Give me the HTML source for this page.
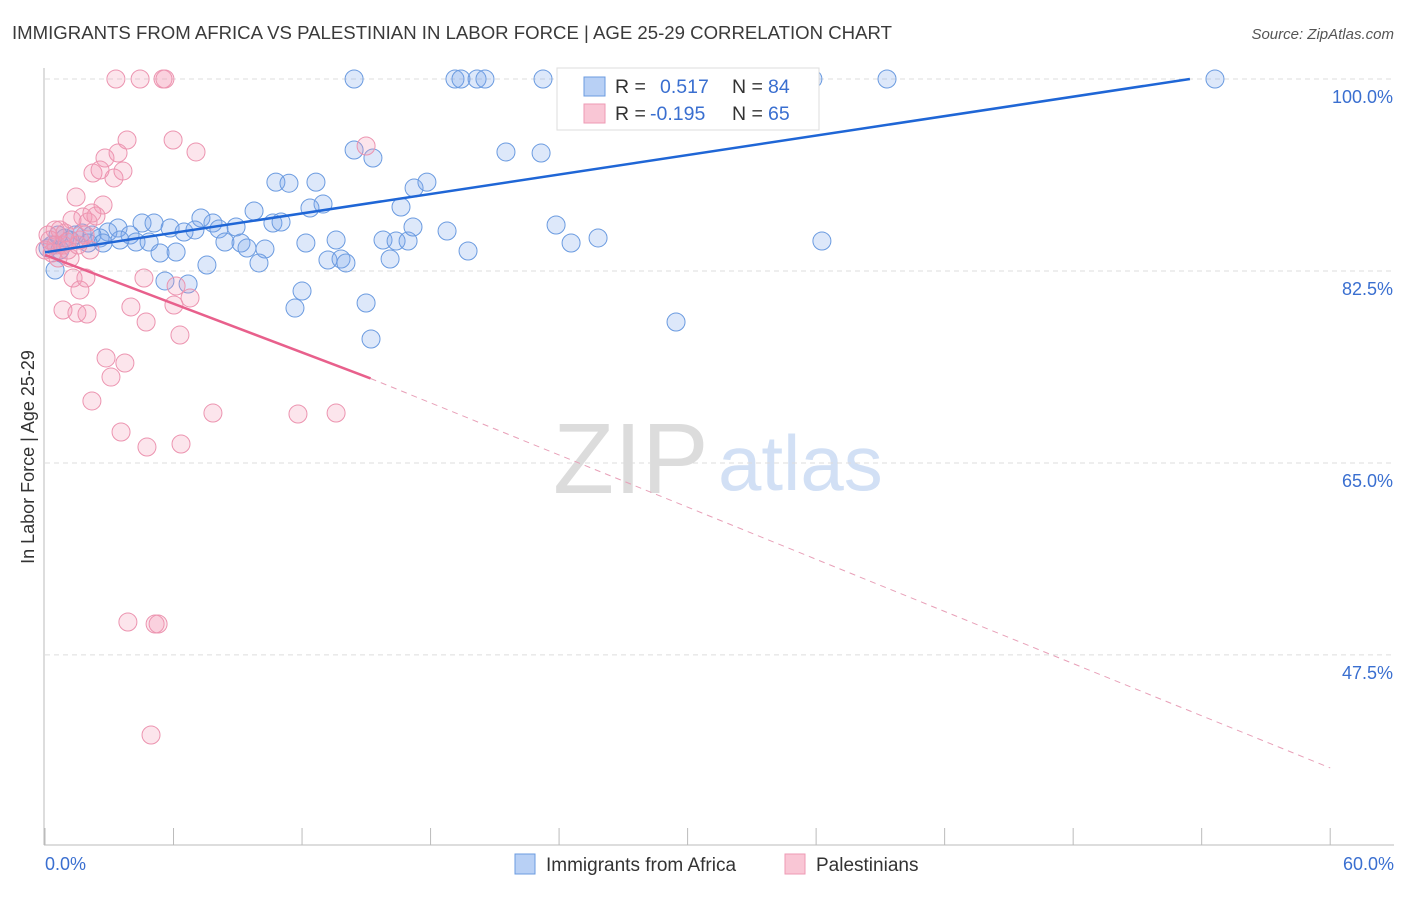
<!DOCTYPE html>
<html><head><meta charset="utf-8">
<style>
body{margin:0;background:#fff;font-family:"Liberation Sans",sans-serif;}
svg text{font-family:"Liberation Sans",sans-serif;}
</style></head>
<body>
<svg id="chart" width="1406" height="892" xmlns="http://www.w3.org/2000/svg">
<text x="12" y="39" font-size="18.6" fill="#3a3a3a">IMMIGRANTS FROM AFRICA VS PALESTINIAN IN LABOR FORCE | AGE 25-29 CORRELATION CHART</text>
<text x="1394" y="39" font-size="15" fill="#555" text-anchor="end" font-style="italic">Source: ZipAtlas.com</text>
<text x="553" y="493" font-size="100" fill="#dcdcdc" font-family="Liberation Serif">ZIP</text>
<text x="718" y="490" font-size="78" fill="#d2e0f5">atlas</text>
<g id="grid"></g>
<g id="axes"></g>
<g id="pts"></g>
<g id="lines"></g>
<text transform="translate(34,457) rotate(-90)" font-size="18" fill="#333" text-anchor="middle">In Labor Force | Age 25-29</text>
<text x="45" y="870" font-size="18" fill="#3a6fd0">0.0%</text>
<text x="1394" y="870" font-size="18" fill="#3a6fd0" text-anchor="end">60.0%</text>
<g>
<rect x="557" y="68" width="262" height="62" fill="#fff" stroke="#ddd"/>
<rect x="584" y="77" width="21" height="19" fill="#b8d0f5" stroke="#6b9be0"/>
<rect x="584" y="104" width="21" height="19" fill="#f9c6d5" stroke="#ee9ab4"/>
<text x="615" y="93" font-size="19.5" fill="#333">R =</text>
<text x="660" y="93" font-size="19.5" fill="#3a6fd0">0.517</text>
<text x="732" y="93" font-size="19.5" fill="#333">N =</text>
<text x="768" y="93" font-size="19.5" fill="#3a6fd0">84</text>
<text x="615" y="120" font-size="19.5" fill="#333">R =</text>
<text x="650" y="120" font-size="19.5" fill="#3a6fd0">-0.195</text>
<text x="732" y="120" font-size="19.5" fill="#333">N =</text>
<text x="768" y="120" font-size="19.5" fill="#3a6fd0">65</text>
</g>
<g>
<rect x="515" y="854" width="20" height="20" fill="#b8d0f5" stroke="#6b9be0"/>
<text x="546" y="871" font-size="19" fill="#333">Immigrants from Africa</text>
</g>
<g>
<rect x="785" y="854" width="20" height="20" fill="#f9c6d5" stroke="#ee9ab4"/>
<text x="816" y="871" font-size="19" fill="#333">Palestinians</text>
</g>
</svg>
<script>
const yTicks=[100,82.5,65,47.5];
const yTickLabels=["100.0%","82.5%","65.0%","47.5%"];
const xTicks=[0,6,12,18,24,30,36,42,48,54,60];
const blueX=[14.43,19.14,19.42,20.17,20.54,23.25,24.51,35.85,39.31,54.62,14.43,15.31,21.52,23.16,10.78,11.39,12.65,17.23,17.83,12.98,12.37,16.62,9.76,7.28,4.53,5.09,5.84,7.84,8.92,10.64,11.02,8.12,6.49,7.0,3.41,3.97,2.94,1.73,2.57,4.25,4.86,8.4,9.15,9.43,10.27,12.18,13.59,15.78,16.39,16.95,17.18,18.77,23.86,24.56,25.82,36.27,5.37,6.12,7.56,9.99,13.21,13.82,14.05,16.11,19.75,5.6,6.68,12.0,11.67,14.99,15.22,29.46,0.47,0.33,0.7,1.17,2.01,1.4,0.93,0.14,2.19,3.5,2.71,0.61];
const blueY=[100,100,100,100,100,100,100,100,100,100,93.53,92.8,93.35,93.25,90.6,90.5,90.6,90.06,90.6,88.6,88.24,88.33,87.97,87.33,86.87,86.87,86.42,86.87,86.51,86.87,86.96,86.33,86.05,86.24,86.42,85.78,86.05,85.96,85.51,85.14,85.14,85.14,85.05,84.59,84.5,85.05,85.32,85.32,85.23,85.23,86.51,86.14,86.69,85.05,85.51,85.23,84.14,84.23,83.04,83.23,83.5,83.59,83.23,83.59,84.32,81.59,81.31,80.67,79.12,79.58,76.3,77.85,82.59,84.87,84.41,85.32,85.05,85.78,85.51,84.59,85.78,85.32,85.05,85.78];
const pinkX=[3.31,4.44,5.51,5.6,3.83,5.98,14.99,2.8,3.41,7.05,2.24,3.22,3.64,2.57,1.45,2.71,2.38,1.77,2.01,2.19,1.26,0.47,0.7,0.93,1.63,2.1,0.23,0.33,0.84,1.17,1.31,1.63,1.91,0.84,1.49,1.96,4.01,4.72,4.62,6.12,6.77,6.02,6.3,2.85,3.73,3.08,2.19,7.84,11.81,13.59,3.55,4.76,6.35,3.87,5.14,5.28,4.95,0.14,0.51,1.07,0,1.54,1.87,0.61,1.03];
const pinkY=[100,100,100,100,94.44,94.44,93.89,92.8,93.25,93.35,91.43,90.98,91.61,91.7,89.24,88.51,87.51,87.42,86.96,87.78,87.15,86.24,86.24,85.96,85.32,84.41,85.32,84.14,84.87,83.68,81.86,80.77,81.86,78.94,78.67,78.58,79.22,77.85,81.86,81.13,80.04,79.4,76.66,74.57,74.11,72.83,70.65,69.55,69.46,69.55,67.82,66.45,66.73,50.5,50.32,50.32,40.2,85.78,84.87,84.41,84.41,84.87,85.78,83.68,85.14];
const blueTrend=[[0,84.2],[53.45,100]];
const pinkTrendSolid=[[0,83.96],[15.2,72.7]];
const pinkTrendDash=[[15.2,72.7],[60,37.2]];

const NS="http://www.w3.org/2000/svg";
const X=v=>45+v*21.42;
const Y=v=>79+(100-v)*10.97;
function mk(tag,attrs,parent){const e=document.createElementNS(NS,tag);for(const k in attrs)e.setAttribute(k,attrs[k]);document.getElementById(parent).appendChild(e);return e;}
yTicks.forEach((t,i)=>{
  const l=mk('line',{x1:45,x2:1394,y1:Y(t),y2:Y(t),stroke:'#ddd','stroke-dasharray':'5,4'},'grid');
  
  
  const tx=mk('text',{x:1393,y:Y(t)+24,'font-size':18,fill:'#3a6fd0','text-anchor':'end'},'grid');
  tx.textContent=yTickLabels[i];
  
  
});
const ya=mk('line',{x1:44,x2:44,y1:68,y2:845,stroke:'#bbb'},'axes');


const xa=mk('line',{x1:44,x2:1394,y1:845,y2:845,stroke:'#bbb'},'axes');


xTicks.forEach(t=>{
  const l=mk('line',{x1:X(t),x2:X(t),y1:828,y2:845,stroke:'#bbb'},'axes');
  
  
});
blueX.forEach((v,i)=>{
  const c=mk('circle',{cx:X(v),cy:Y(blueY[i]),r:9,fill:'rgba(120,165,235,0.25)',stroke:'#6b9be0','stroke-width':1},'pts');
  
  
});
pinkX.forEach((v,i)=>{
  const c=mk('circle',{cx:X(v),cy:Y(pinkY[i]),r:9,fill:'rgba(244,150,180,0.25)',stroke:'#ec94b0','stroke-width':1},'pts');
  
  
});
const bl=mk('line',{x1:X(blueTrend[0][0]),y1:Y(blueTrend[0][1]),x2:X(blueTrend[1][0]),y2:Y(blueTrend[1][1]),stroke:'#1f66d6','stroke-width':2.5},'lines');


const ps=mk('line',{x1:X(pinkTrendSolid[0][0]),y1:Y(pinkTrendSolid[0][1]),x2:X(pinkTrendSolid[1][0]),y2:Y(pinkTrendSolid[1][1]),stroke:'#e8608c','stroke-width':2.5},'lines');


const pd=mk('line',{x1:X(pinkTrendDash[0][0]),y1:Y(pinkTrendDash[0][1]),x2:X(pinkTrendDash[1][0]),y2:Y(pinkTrendDash[1][1]),stroke:'#e8a0b8','stroke-width':1,'stroke-dasharray':'6,5'},'lines');


</script>
</body></html>
